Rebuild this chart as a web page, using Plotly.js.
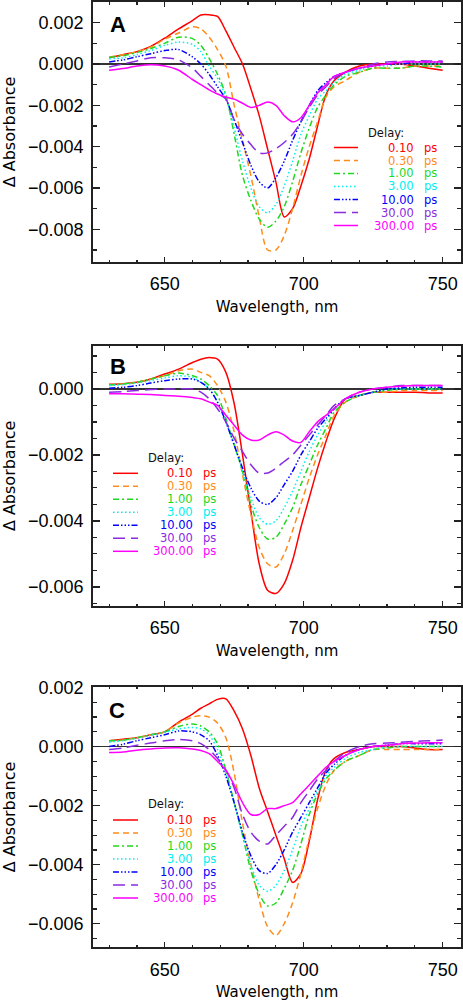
<!DOCTYPE html>
<html><head><meta charset="utf-8">
<script src="https://cdn.plot.ly/plotly-3.0.1.min.js"></script>
<style>html,body{margin:0;padding:0;background:#fff}#chart{width:463px;height:1002px}</style>
</head><body><div id="chart"></div>
<script>
// ---------- data ----------
const wavelength = [630,635,640,645,650,655,660,663,666,669,672,675,678,681,684,687,690,693,696,699,702,705,708,711,715,720,725,730,735,740,745,750];
const delays = ["0.10","0.30","1.00","3.00","10.00","30.00","300.00"];
const panelLabels = ["A","B","C"];

// Panel A
const a_0p10  = [0.0003,0.00045,0.0006,0.00085,0.00125,0.0017,0.0021,0.00237,0.00238,0.0023,0.0016,0.0008,0.0000,-0.0012,-0.0025,-0.0041,-0.0057,-0.0074,-0.0070,-0.0059,-0.0046,-0.0030,-0.0015,-0.0008,-0.0004,-0.0001,0.0,0.0,0.0,-0.0001,-0.0002,-0.0003];
const a_0p30  = [0.00033,0.00045,0.0006,0.00082,0.0012,0.0015,0.0018,0.0017,0.0013,0.0007,-0.0001,-0.0020,-0.0037,-0.0054,-0.0074,-0.0090,-0.0090,-0.0083,-0.0070,-0.0054,-0.0040,-0.0028,-0.0016,-0.0011,-0.0008,-0.0004,-0.0002,-0.0002,-0.0002,-0.0001,-0.0001,-0.0001];
const a_1p00  = [0.00033,0.0004,0.00055,0.00075,0.001,0.0013,0.00123,0.0009,0.00027,-0.0005,-0.0015,-0.0034,-0.0054,-0.0066,-0.0075,-0.0079,-0.0076,-0.0069,-0.0057,-0.0043,-0.0031,-0.0021,-0.0015,-0.0010,-0.0006,-0.0004,-0.0002,-0.0002,-0.0002,-0.0001,-0.0001,-0.00015];
const a_3p00  = [0.00025,0.0003,0.00045,0.00065,0.0009,0.00106,0.00095,0.0006,-0.0001,-0.0007,-0.0016,-0.0031,-0.0047,-0.0060,-0.0069,-0.0072,-0.0068,-0.0059,-0.0047,-0.0034,-0.0025,-0.0017,-0.0013,-0.0009,-0.0005,-0.0003,-0.0001,-0.0001,0.0,0.0,0.0,0.0];
const a_10p0  = [0.0001,0.0002,0.00035,0.0005,0.00065,0.0007,0.00034,0.0,-0.0005,-0.0011,-0.0017,-0.0027,-0.0038,-0.0049,-0.0057,-0.0060,-0.0055,-0.0047,-0.0037,-0.0028,-0.0020,-0.0013,-0.0009,-0.0006,-0.0004,-0.0002,-0.0001,0.0,0.0,0.0001,0.0001,0.0001];
const a_30p0  = [-0.00014,0.0,0.00015,0.0003,0.0003,0.0002,-0.0002,-0.0006,-0.0010,-0.0014,-0.0017,-0.0027,-0.0034,-0.0039,-0.0043,-0.0043,-0.0041,-0.0038,-0.0034,-0.0028,-0.0021,-0.0015,-0.0011,-0.0007,-0.0004,-0.0002,0.0,0.0001,0.00012,0.00015,0.00015,0.00015];
const a_300   = [-0.0003,-0.00022,-0.0001,-0.00004,-0.0001,-0.0003,-0.00075,-0.0010,-0.00125,-0.00145,-0.0016,-0.0017,-0.0019,-0.0021,-0.0020,-0.00184,-0.0020,-0.0025,-0.0028,-0.0026,-0.0020,-0.0014,-0.0010,-0.0006,-0.0004,-0.0002,-0.0001,0.0,0.0001,0.0001,0.0001,0.0001];

// Panel B
const b_0p10  = [0.00014,0.00016,0.0002,0.0003,0.00045,0.0006,0.0008,0.0009,0.00095,0.0009,0.0005,-0.00045,-0.0020,-0.0037,-0.0053,-0.0061,-0.0062,-0.0059,-0.0052,-0.0042,-0.0033,-0.0024,-0.0016,-0.0009,-0.0003,-0.0002,-0.0001,-0.0001,-0.0001,-0.0001,-0.00012,-0.00012];
const b_0p30  = [0.00012,0.00015,0.0002,0.0003,0.0004,0.00055,0.0006,0.0005,0.0004,0.0001,-0.0004,-0.0013,-0.0026,-0.0038,-0.0048,-0.0053,-0.0054,-0.0050,-0.0043,-0.0035,-0.0027,-0.0020,-0.0014,-0.0008,-0.0004,-0.0002,-0.0001,-0.0001,-0.00005,-0.00005,-0.00005,-0.00005];
const b_1p00  = [0.00012,0.00015,0.0002,0.0003,0.0004,0.00048,0.0004,0.0003,0.0001,-0.0002,-0.0009,-0.0017,-0.0025,-0.0035,-0.0042,-0.00455,-0.0045,-0.0041,-0.0036,-0.0029,-0.0023,-0.0017,-0.0012,-0.0007,-0.0004,-0.0002,-0.0001,-0.00005,0.0,0.0,0.0,0.0];
const b_3p00  = [0.0001,0.00013,0.00018,0.00025,0.00033,0.0004,0.00035,0.0002,0.0,-0.0004,-0.0010,-0.0017,-0.0025,-0.0033,-0.0039,-0.0041,-0.0040,-0.0036,-0.0031,-0.0025,-0.0019,-0.0014,-0.0010,-0.0006,-0.0003,-0.0002,-0.0001,0.0,0.0,0.0,0.0,0.0];
const b_10p0  = [0.00002,0.00005,0.0001,0.00018,0.00025,0.0003,0.0003,0.0002,0.0,-0.0004,-0.0010,-0.0017,-0.0024,-0.0030,-0.0034,-0.0035,-0.0033,-0.0029,-0.0025,-0.0020,-0.0016,-0.0012,-0.0009,-0.0006,-0.0003,-0.0002,-0.0001,0.0,0.00003,0.00005,0.00005,0.00005];
const b_30p0  = [-0.0001,-0.00008,-0.00005,-0.00002,0.0,0.0,0.0,-0.0001,-0.0003,-0.0006,-0.0010,-0.0015,-0.0019,-0.0023,-0.00255,-0.00255,-0.0024,-0.0022,-0.0020,-0.0017,-0.0014,-0.0011,-0.0008,-0.0005,-0.0003,-0.0001,0.0,0.00005,0.0001,0.0001,0.0001,0.0001];
const b_300   = [-0.00015,-0.00015,-0.00016,-0.00017,-0.0002,-0.00022,-0.00026,-0.0003,-0.0004,-0.0005,-0.0008,-0.0011,-0.0014,-0.00155,-0.00155,-0.0014,-0.0013,-0.0014,-0.00158,-0.00162,-0.0013,-0.0010,-0.0008,-0.0006,-0.0003,-0.0001,0.0,0.00005,0.00008,0.0001,0.0001,0.0001];

// Panel C
const c_0p10  = [0.0002,0.00025,0.0003,0.0004,0.0005,0.00083,0.0011,0.0013,0.00145,0.0016,0.00162,0.0012,0.0006,-0.0003,-0.0014,-0.0022,-0.0030,-0.0038,-0.0046,-0.0043,-0.0032,-0.0018,-0.0008,-0.0004,-0.0002,-0.0001,0.0,0.0,0.0,-0.00005,-0.0001,-0.0001];
const c_0p30  = [0.0002,0.00022,0.0003,0.0004,0.0005,0.0008,0.001,0.00105,0.001,0.0008,0.0003,-0.0009,-0.0026,-0.0040,-0.0052,-0.0061,-0.0064,-0.0060,-0.0053,-0.0043,-0.0031,-0.0021,-0.0013,-0.0008,-0.0005,-0.0003,-0.0001,-0.0001,-0.0001,-0.0001,-0.0001,-0.0001];
const c_1p00  = [0.0002,0.00022,0.0003,0.0004,0.0005,0.00068,0.00077,0.0007,0.0005,0.0001,-0.0008,-0.0019,-0.0030,-0.0042,-0.0050,-0.0054,-0.0053,-0.0048,-0.0042,-0.0033,-0.0023,-0.0016,-0.0011,-0.0008,-0.0005,-0.0003,-0.0001,-0.00005,0.0,0.0,0.0,0.0];
const c_3p00  = [0.00015,0.0002,0.00028,0.00038,0.00048,0.0006,0.00065,0.0006,0.0004,-0.0001,-0.0009,-0.0019,-0.0030,-0.0040,-0.0047,-0.0049,-0.0047,-0.0042,-0.0035,-0.0027,-0.0021,-0.0015,-0.0010,-0.0007,-0.0004,-0.0002,-0.0001,0.0,0.0,0.0,0.0,0.0];
const c_10p0  = [0.0,0.00008,0.0002,0.0003,0.0004,0.00053,0.0005,0.0004,0.0002,-0.0003,-0.0010,-0.0019,-0.0029,-0.0037,-0.0042,-0.0043,-0.0040,-0.0035,-0.0029,-0.0024,-0.0019,-0.0014,-0.0009,-0.0006,-0.0003,-0.0001,0.0,0.00005,0.0001,0.0001,0.0001,0.0001];
const c_30p0  = [-0.0001,-0.00005,0.00005,0.00012,0.0002,0.00024,0.0002,0.0001,-0.0001,-0.0004,-0.0008,-0.0014,-0.0023,-0.0029,-0.0032,-0.0033,-0.0030,-0.0027,-0.0024,-0.0019,-0.0015,-0.0011,-0.0008,-0.0005,-0.0002,0.0,0.0001,0.00012,0.00015,0.00018,0.0002,0.00022];
const c_300   = [-0.0002,-0.00018,-0.00012,-0.00008,-0.00005,-0.00004,-0.00008,-0.00013,-0.00024,-0.0005,-0.0008,-0.0013,-0.0019,-0.0023,-0.0023,-0.0021,-0.0021,-0.0020,-0.0019,-0.0016,-0.0013,-0.0010,-0.0007,-0.0005,-0.0003,-0.0001,0.0,0.00005,0.0001,0.00012,0.00013,0.00013];

const panelSeries = [
  [a_0p10,a_0p30,a_1p00,a_3p00,a_10p0,a_30p0,a_300],
  [b_0p10,b_0p30,b_1p00,b_3p00,b_10p0,b_30p0,b_300],
  [c_0p10,c_0p30,c_1p00,c_3p00,c_10p0,c_30p0,c_300]
];

// ---------- styles ----------
const colors = ['#ff0000','#ff8c1a','#1fd81f','#00f0f0','#0000ff','#8a2be2','#ff00ff'];
const dashes = ['solid','6px,4px','6px,3px,2px,3px','1.5px,2.5px','6px,2px,1.5px,2px,1.5px,2px,1.5px,2px','12px,6px','solid'];

const W = 463, H = 1002;
const px = v => v / W, py = v => 1 - v / H;
const plotX = [93, 461];
const plotY = [[2, 262], [345.7, 606], [686.7, 947.3]];
const yRanges = [[-0.00958, 0.003], [-0.00658, 0.00131], [-0.0068, 0.00203]];
const yMinor = [0.001, 0.0005, 0.0005];
const xRange = [624.2, 756.6];

const legendPos = [
  {l0:334, l1:358, numR:414.5, psL:423, dx:386, dy:132.5, r0:147.5, step:13},
  {l0:113, l1:138, numR:194, psL:202, dx:166, dy:458.3, r0:473.3, step:13},
  {l0:113, l1:138, numR:194, psL:202, dx:166, dy:804.3, r0:820.0, step:13}
];
const letterPos = [[118, 25], [118, 366.7], [117.3, 710]];

const axisColor = '#222';
const tickFont = {family: 'Liberation Sans, Arial, sans-serif', size: 18, color: '#000'};
const titleFontX = {family: 'DejaVu Sans, sans-serif', size: 15, color: '#000'};
const titleFontY = {family: 'DejaVu Sans, sans-serif', size: 16, color: '#000'};
const legendFont = {family: 'DejaVu Sans, sans-serif', size: 11.5};

const traces = [];
const layout = {
  width: W, height: H, margin: {l:0, r:0, t:0, b:0},
  paper_bgcolor: '#fff', plot_bgcolor: '#fff', showlegend: false,
  annotations: [], shapes: []
};

panelSeries.forEach((series, p) => {
  const sfx = p === 0 ? '' : String(p + 1);
  series.forEach((vals, i) => {
    traces.push({
      type: 'scatter', mode: 'lines', x: wavelength, y: vals,
      xaxis: 'x' + sfx, yaxis: 'y' + sfx,
      name: delays[i] + ' ps',
      line: {color: colors[i], width: 1.5, dash: dashes[i], shape: 'spline', smoothing: 0.8},
      hoverinfo: 'skip'
    });
  });
  layout['xaxis' + sfx] = {
    domain: [px(plotX[0]), px(plotX[1])], range: xRange, anchor: 'y' + sfx,
    tick0: 650, dtick: 50, ticks: 'inside', ticklen: 5, tickwidth: 1.5, tickcolor: axisColor,
    mirror: 'allticks', showline: true, linecolor: axisColor, linewidth: 1.8,
    showgrid: false, zeroline: false, tickfont: tickFont, ticklabelstandoff: 5,
    minor: {tick0: 650, dtick: 10, ticks: 'inside', ticklen: 2.5, tickwidth: 1.2, tickcolor: axisColor, showgrid: false},
    title: {text: 'Wavelength, nm', font: titleFontX, standoff: 8}
  };
  layout['yaxis' + sfx] = {
    domain: [py(plotY[p][1]), py(plotY[p][0])], range: yRanges[p], anchor: 'x' + sfx,
    tick0: 0, dtick: 0.002, tickformat: '.3f', ticks: 'inside', ticklen: 7, tickwidth: 1.5, tickcolor: axisColor,
    mirror: 'allticks', showline: true, linecolor: axisColor, linewidth: 1.8,
    showgrid: false, zeroline: true, zerolinecolor: '#333', zerolinewidth: 1.6,
    tickfont: tickFont, ticklabelstandoff: 4,
    minor: {tick0: 0, dtick: yMinor[p], ticks: 'inside', ticklen: 4, tickwidth: 1.2, tickcolor: axisColor, showgrid: false},
    title: {text: '\u0394 Absorbance', font: titleFontY, standoff: 9}
  };

  // panel letter
  layout.annotations.push({
    xref: 'paper', yref: 'paper', x: px(letterPos[p][0]), y: py(letterPos[p][1]),
    text: '<b>' + panelLabels[p] + '</b>', showarrow: false, xanchor: 'center', yanchor: 'middle',
    font: {family: 'Liberation Sans, Arial, sans-serif', size: 22, color: '#000'}
  });

  // legend drawn from the delay labels
  const L = legendPos[p];
  layout.annotations.push({
    xref: 'paper', yref: 'paper', x: px(L.dx), y: py(L.dy), text: 'Delay:',
    showarrow: false, xanchor: 'center', yanchor: 'middle', borderpad: 0,
    font: {family: 'DejaVu Sans, sans-serif', size: 11.5, color: '#111'}
  });
  delays.forEach((d, i) => {
    const ry = L.r0 + i * L.step;
    layout.shapes.push({
      type: 'line', xref: 'paper', yref: 'paper',
      x0: px(L.l0), x1: px(L.l1), y0: py(ry), y1: py(ry),
      line: {color: colors[i], width: 1.5, dash: dashes[i]}
    });
    layout.annotations.push({
      xref: 'paper', yref: 'paper', x: px(L.numR), y: py(ry), text: d,
      showarrow: false, xanchor: 'right', yanchor: 'middle', borderpad: 0,
      font: Object.assign({color: colors[i]}, legendFont)
    });
    layout.annotations.push({
      xref: 'paper', yref: 'paper', x: px(L.psL), y: py(ry), text: 'ps',
      showarrow: false, xanchor: 'left', yanchor: 'middle', borderpad: 0,
      font: Object.assign({color: colors[i]}, legendFont)
    });
  });
});

Plotly.newPlot('chart', traces, layout, {staticPlot: true, displayModeBar: false});
</script>
</body></html>
